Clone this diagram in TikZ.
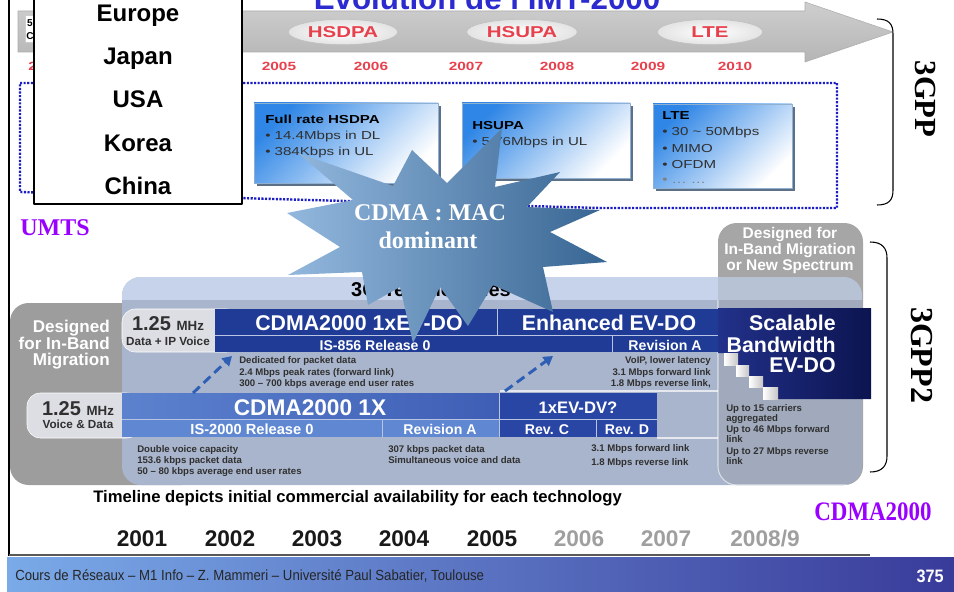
\documentclass[tikz,border=0pt]{standalone}
\usepackage{fontspec}
\setmainfont{Liberation Sans}
\newfontfamily\timesbf{Liberation Serif}
\newfontfamily\widesans[FakeStretch=1.3]{Liberation Sans}
\newfontfamily\narrowsans[FakeStretch=0.9]{Liberation Sans}
\newfontfamily\narrowserif[FakeStretch=0.86]{Liberation Serif}
\usetikzlibrary{arrows.meta,shapes.geometric}

\newcommand{\fsz}[1]{\fontsize{#1}{#1}\selectfont}

\definecolor{titleblue}{HTML}{2B2BD0}
\definecolor{yearred}{HTML}{E8414E}
\definecolor{dotblue}{HTML}{1C1CC4}
\definecolor{hsblue}{HTML}{2F86E6}
\definecolor{hsedge}{HTML}{8FB0D0}
\definecolor{hsshade}{HTML}{5C7088}
\definecolor{textgray}{HTML}{303030}
\definecolor{starlight}{HTML}{93B8DE}
\definecolor{stardark}{HTML}{376592}
\definecolor{umtspurple}{HTML}{9900FF}
\definecolor{leftgray}{HTML}{9D9D9D}
\definecolor{colgray}{HTML}{A6A6A6}
\definecolor{panellight}{HTML}{C7D3EB}
\definecolor{panelbody}{HTML}{A9B5CC}
\definecolor{labelgray}{HTML}{DCDEE4}
\definecolor{evnavy}{HTML}{1F3B96}
\definecolor{onexleft}{HTML}{5C82CE}
\definecolor{onexright}{HTML}{3E5EB5}
\definecolor{onexsub}{HTML}{5F87D2}
\definecolor{dvblue}{HTML}{2A46A5}
\definecolor{sbleft}{HTML}{22318A}
\definecolor{sbright}{HTML}{0C1450}
\definecolor{sepline}{HTML}{B8C4E2}
\definecolor{dasharrow}{HTML}{2F5FB5}
\definecolor{footlight}{HTML}{7AAAE8}
\definecolor{footdark}{HTML}{393B9A}

\begin{document}
\begin{tikzpicture}[x=0.75pt,y=-0.75pt,line join=round,
  every node/.style={inner sep=0pt},
  redyear/.style={anchor=base,text=yearred,font=\widesans\bfseries\fsz{8.9}},
  oval/.style={ellipse,inner color=white,outer color=gray!22,draw=gray!50,
    minimum height=19pt,text=yearred,font=\widesans\bfseries\fsz{11.8}},
  hsbox/.style={draw=hsedge,left color=hsblue,right color=white,shading angle=45},
  boxtitle/.style={anchor=base west,font=\widesans\bfseries\fsz{8.7}},
  boxline/.style={anchor=base west,text=textgray,font=\widesans\fsz{8.7}},
  country/.style={anchor=base,font=\bfseries\fsz{18}},
  bartxt/.style={anchor=base,text=white,font=\bfseries\fsz{16}},
  subtxt/.style={anchor=base,text=white,font=\bfseries\fsz{10.6}},
  note/.style={anchor=base west,text=textgray,font=\bfseries\fsz{7.2}},
  mhz/.style={anchor=base,text=textgray,font=\bfseries},
  tlyear/.style={anchor=base,font=\bfseries\fsz{17}}]
\useasboundingbox (0,0) rectangle (954,592);

% frame line on the left and footer band
\draw[line width=1.5pt] (9,0) -- (9,556);
\draw[gray!70!black,line width=0.8pt] (9,555) -- (870,555);
\shade[left color=footlight,right color=footdark] (7,557) rectangle (954,592);
\node[anchor=base west,text=black!85,font=\narrowsans\fsz{11}] (foot) at (15,580)
  {Cours de Réseaux – M1 Info – Z. Mammeri – Université Paul Sabatier, Toulouse};
\node[anchor=base east,text=white,font=\narrowsans\bfseries\fsz{13.5}] (page) at (944,582) {375};

% grey time arrow
\path[draw=gray!65,top color=gray!38,bottom color=gray!58]
  (18,11) -- (805,11) -- (805,2) -- (893,32) -- (805,62) -- (805,52) -- (18,52) -- cycle;
\node[anchor=base,text=titleblue,font=\bfseries\fsz{23.5}] (title) at (487,10) {Evolution de l’IMT-2000};
\node[oval,minimum width=82pt] (hsdpa) at (343,32) {HSDPA};
\node[oval,minimum width=83pt] (hsupa) at (522,32) {HSUPA};
\node[oval,minimum width=79pt] (lte) at (710,32) {LTE};
\draw[gray!40,fill=white] (25,15) rectangle (42,42);
\node[anchor=base,font=\bfseries\fsz{7.5}] (five) at (30,27) {5};
\node[anchor=base,font=\bfseries\fsz{7.5}] (cee) at (30,40) {C};

% years along the arrow
\node[redyear,anchor=base west] (y0) at (28,71) {2};
\node[redyear] (y5) at (279,71) {2005};
\node[redyear] (y6) at (371,71) {2006};
\node[redyear] (y7) at (466,71) {2007};
\node[redyear] (y8) at (557,71) {2008};
\node[redyear] (y9) at (648,71) {2009};
\node[redyear] (y10) at (735,71) {2010};

% dotted frame round the 3GPP boxes
\draw[dotblue,line width=1.8pt,dash pattern=on 1.6pt off 1.1pt]
  (20,83) -- (837,83) -- (837,208) -- (600,208) -- (20,192) -- cycle;

% HSDPA / HSUPA / LTE boxes
\fill[hsshade] (257,106) rectangle (441,186);
\path[hsbox] (254,103) rectangle (438,183);
\node[boxtitle] (fr) at (265,123) {Full rate HSDPA};
\node[boxline] (fr1) at (265,140) {• 14.4Mbps in DL};
\node[boxline] (fr2) at (265,156) {• 384Kbps in UL};

\fill[hsshade] (465,106) rectangle (633,181);
\path[hsbox] (462,103) rectangle (630,178);
\node[boxtitle] (up) at (472,130) {HSUPA};
\node[boxline] (up1) at (472,146) {• 5.76Mbps in UL};

\fill[hsshade] (656,107) rectangle (795,191);
\path[hsbox] (653,104) rectangle (792,188);
\node[boxtitle] (lt) at (662,120) {LTE};
\node[boxline] (lt1) at (662,136) {• 30 \textasciitilde{} 50Mbps};
\node[boxline] (lt2) at (662,152) {• MIMO};
\node[boxline] (lt3) at (662,168) {• OFDM};
\node[boxline,text=gray] (lt4) at (662,184) {• … …};

% countries
\draw[fill=white,line width=0.8pt] (34,-5) rectangle (242,204);
\node[country] (europe) at (138,22) {Europe};
\node[country] (japan) at (138,65) {Japan};
\node[country] (usa) at (138,108) {USA};
\node[country] (korea) at (138,151.5) {Korea};
\node[country] (china) at (138,195) {China};

\node[anchor=base west,text=umtspurple,font=\timesbf\bfseries\fsz{18}] (umts) at (20,235) {UMTS};

% 3GPP brace
\draw[line width=0.8pt] (877,19) .. controls (889,19) and (893,24) .. (893,34)
  -- (893,190) .. controls (893,200) and (889,205) .. (877,205);
\node[rotate=-90,font=\timesbf\bfseries\fsz{23}] (gpp) at (925,99) {3GPP};

% 3G technologies panel
\fill[leftgray,rounded corners=14pt] (10,303) rectangle (200,485);
\fill[colgray,rounded corners=14pt] (718,223) rectangle (863,485);
\node[anchor=base,text=white,font=\bfseries\fsz{11.6}] (nsa) at (790,238) {Designed for};
\node[anchor=base,text=white,font=\bfseries\fsz{11.6}] (nsb) at (790,254) {In-Band Migration};
\node[anchor=base,text=white,font=\bfseries\fsz{11.6}] (nsc) at (790,270) {or New Spectrum};
\fill[panelbody,rounded corners=14pt] (122,277) rectangle (862,485);
\begin{scope}
  \clip[rounded corners=14pt] (122,277) rectangle (862,485);
  \fill[panellight] (122,277) rectangle (862,300);
  \fill[gray,fill opacity=0.2,rounded corners=14pt] (718,240) rectangle (863,485);
  \draw[white,opacity=0.6,line width=0.8pt,rounded corners=14pt] (718,300) -- (718,485) -- (863,485);
\end{scope}
\node[anchor=base,font=\bfseries\fsz{15}] (tech) at (431,296) {3G Technologies};

\node[anchor=base east,text=white,font=\bfseries\fsz{12.8}] (dla) at (110,332) {Designed};
\node[anchor=base east,text=white,font=\bfseries\fsz{12.8}] (dlb) at (110,349) {for In-Band};
\node[anchor=base east,text=white,font=\bfseries\fsz{12.8}] (dlc) at (110,365) {Migration};

% EV-DO rows
\draw[white,fill=labelgray,rounded corners=10pt] (122,309) rectangle (240,352);
\node[mhz] (mhza) at (168,330) {\fsz{15}1.25 \fsz{10}MHz};
\node[mhz,font=\bfseries\fsz{8.8}] (dataip) at (168,345) {Data + IP Voice};
\fill[evnavy] (215,309) rectangle (718,352);
\draw[sepline,line width=0.7pt] (215,335) -- (718,335) (497,309) -- (497,335) (612,335) -- (612,352);
\node[bartxt] (evdo) at (359,330) {CDMA2000 1xEV-DO};
\node[bartxt] (evdoe) at (609,330) {Enhanced EV-DO};
\node[subtxt] (is856) at (375,350) {IS-856 Release 0};
\node[subtxt] (reva) at (665,350) {Revision A};

\node[note] (n1) at (239,363) {Dedicated for packet data};
\node[note] (n2) at (239,375) {2.4 Mbps peak rates (forward link)};
\node[note] (n3) at (239,386) {300 – 700 kbps average end user rates};
\node[note,anchor=base east] (n4) at (711,363) {VoIP, lower latency};
\node[note,anchor=base east] (n5) at (711,375) {3.1 Mbps forward link};
\node[note,anchor=base east] (n6) at (711,386) {1.8 Mbps reverse link,};
\draw[white,opacity=0.7,line width=0.8pt] (500,391) -- (718,391);

% scalable bandwidth block
\path[left color=sbleft,right color=sbright]
  (718,308) -- (871,308) -- (871,399) -- (778,399) -- (778,387) -- (763,387)
  -- (763,376) -- (749,376) -- (749,365) -- (738,365) -- (738,353) -- (718,353) -- cycle;
\shade[left color=white,right color=gray!45] (724,353) rectangle (738,365);
\shade[left color=white,right color=gray!45] (736,365) rectangle (749,376);
\shade[left color=white,right color=gray!45] (749,376) rectangle (763,387);
\shade[left color=white,right color=gray!45] (763,387) rectangle (778,399);
\node[bartxt,anchor=base east] (sca) at (836,330) {Scalable};
\node[bartxt,anchor=base east] (scb) at (836,352) {Bandwidth};
\node[bartxt,anchor=base east] (scc) at (836,372) {EV-DO};
\node[note] (s1) at (726,411) {Up to 15 carriers};
\node[note] (s2) at (726,421) {aggregated};
\node[note] (s3) at (726,432) {Up to 46 Mbps forward};
\node[note] (s4) at (726,442) {link};
\node[note] (s5) at (726,454) {Up to 27 Mbps reverse};
\node[note] (s6) at (726,464) {link};

% 1X rows
\draw[white,fill=labelgray,rounded corners=10pt] (27,393) rectangle (140,438);
\node[mhz] (mhzb) at (78,415) {\fsz{15}1.25 \fsz{10}MHz};
\node[mhz,font=\bfseries\fsz{8.8}] (vdata) at (78,428) {Voice \& Data};
\shade[left color=onexleft,right color=onexright] (122,393) rectangle (500,419);
\fill[dvblue] (500,393) rectangle (657,419);
\fill[onexsub] (122,420) rectangle (500,437);
\fill[dvblue] (500,420) rectangle (657,437);
\draw[sepline,line width=0.7pt] (122,419.5) -- (657,419.5) (382,420) -- (382,437)
  (499,393) -- (499,437) (596,420) -- (596,437);
\draw[white,opacity=0.7,line width=0.8pt] (657,438) -- (718,438);
\node[bartxt,font=\bfseries\fsz{17}] (onex) at (310,415) {CDMA2000 1X};
\node[bartxt,font=\bfseries\fsz{12.5}] (evdv) at (578,413) {1xEV-DV?};
\node[subtxt,font=\bfseries\fsz{11}] (is2000) at (252,434) {IS-2000 Release 0};
\node[subtxt] (revb) at (440,434) {Revision A};
\node[subtxt] (revc) at (547,434) {Rev. C};
\node[subtxt] (revd) at (627,434) {Rev. D};

\node[note] (m1) at (137,452) {Double voice capacity};
\node[note] (m2) at (137,463) {153.6 kbps packet data};
\node[note] (m3) at (137,474) {50 – 80 kbps average end user rates};
\node[note] (m4) at (388,452) {307 kbps packet data};
\node[note] (m5) at (388,463) {Simultaneous voice and data};
\node[note] (m6) at (591,451) {3.1 Mbps forward link};
\node[note] (m7) at (591,465) {1.8 Mbps reverse link};

% dashed upgrade arrows
\coordinate (upa) at (193,393);
\coordinate (upb) at (232,356);
\coordinate (upc) at (505,391);
\coordinate (upd) at (553,356);
\draw[dasharrow,line width=2.2pt,dash pattern=on 7pt off 4pt,-{Triangle[length=7pt,width=8pt]}] (upa) -- (upb);
\draw[dasharrow,line width=2.2pt,dash pattern=on 7pt off 4pt,-{Triangle[length=7pt,width=8pt]}] (upc) -- (upd);

% 3GPP2 brace
\draw[line width=0.8pt] (870,242) .. controls (882,242) and (887,248) .. (887,258)
  -- (887,456) .. controls (887,466) and (882,472) .. (870,472);
\node[rotate=-90,font=\timesbf\bfseries\fsz{24}] (gpptwo) at (922,355) {3GPP2};
\node[anchor=base,text=umtspurple,font=\narrowserif\bfseries\fsz{20}] (cdma) at (873,520) {CDMA2000};

% timeline
\node[anchor=base west,font=\bfseries\fsz{12.5}] (tline) at (93,502)
  {Timeline depicts initial commercial availability for each technology};
\node[tlyear,text=black!90] (t1) at (142,546) {2001};
\node[tlyear,text=black!90] (t2) at (230,546) {2002};
\node[tlyear,text=black!90] (t3) at (317,546) {2003};
\node[tlyear,text=black!90] (t4) at (404,546) {2004};
\node[tlyear,text=black!90] (t5) at (492,546) {2005};
\node[tlyear,text=gray!75] (t6) at (579,546) {2006};
\node[tlyear,text=gray!75] (t7) at (666,546) {2007};
\node[tlyear,text=gray!75] (t8) at (765,546) {2008/9};

% the star on top
\shade[left color=starlight,right color=stardark]
  (298,153) -- (393,186) -- (412,150) -- (447,183) -- (502,128) -- (495,187)
  -- (560,172) -- (527,207) -- (600,210) -- (550,232) -- (607,262) -- (543,267)
  -- (553,312) -- (493,285) -- (468,326) -- (440,287) -- (413,343) -- (400,287)
  -- (368,305) -- (362,272) -- (288,275) -- (340,247) -- (287,213) -- (353,200) -- cycle;
\node[anchor=base,text=white,font=\timesbf\bfseries\fsz{18}] (mac) at (430,220) {CDMA : MAC};
\node[anchor=base,text=white,font=\timesbf\bfseries\fsz{18}] (dom) at (428,248) {dominant};

\end{tikzpicture}
\end{document}
